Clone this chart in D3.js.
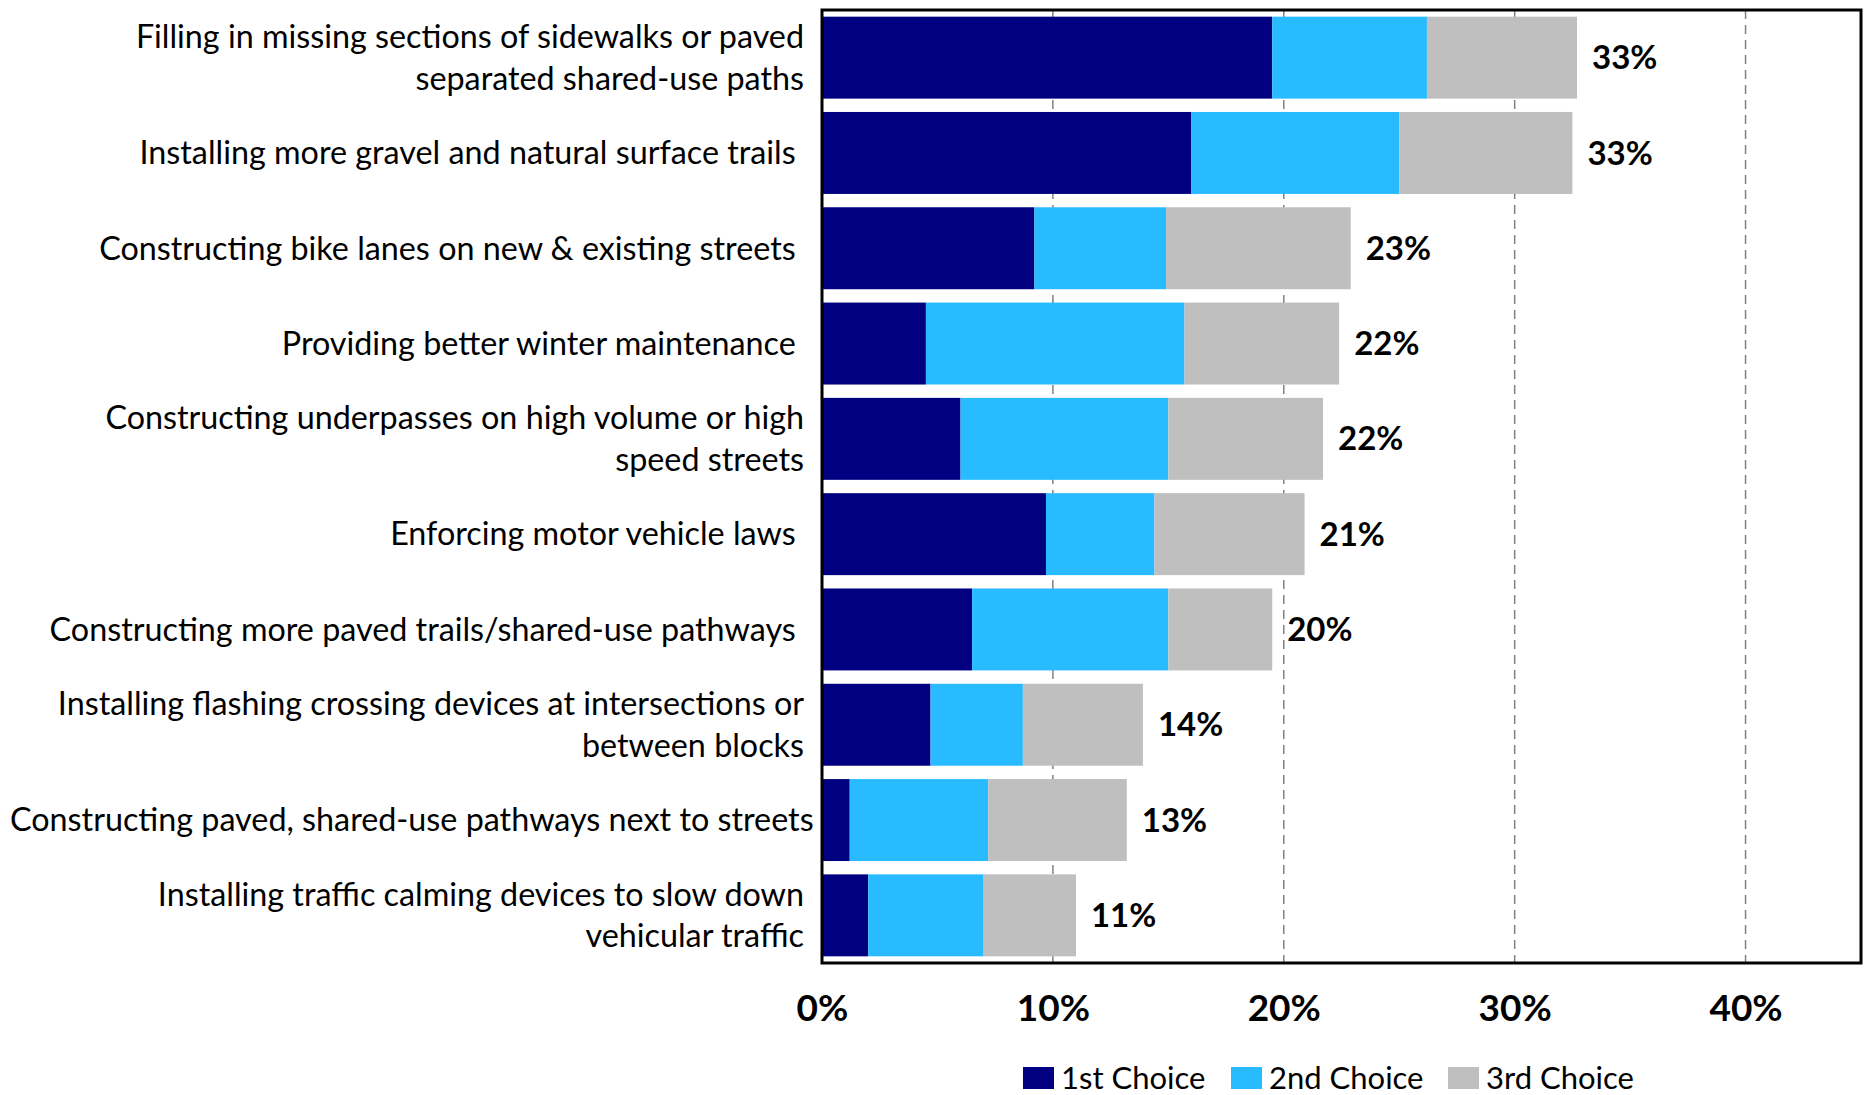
<!DOCTYPE html>
<html>
<head>
<meta charset="utf-8">
<script src="https://cdn.jsdelivr.net/npm/d3@7"></script>
<style>
  html, body { margin: 0; padding: 0; background: #fff; }
  svg { display: block; }
  text { font-family: "Lato", "Noto Sans", sans-serif; fill: #000; }
</style>
</head>
<body>
<svg id="chart" width="1870" height="1095"></svg>
<script>
// ---- data ----
const categories = [
  "Filling in missing sections of sidewalks or paved\nseparated shared-use paths",
  "Installing more gravel and natural surface trails ",
  "Constructing bike lanes on new & existing streets ",
  "Providing better winter maintenance ",
  "Constructing underpasses on high volume or high\nspeed streets",
  "Enforcing motor vehicle laws ",
  "Constructing more paved trails/shared-use pathways ",
  "Installing flashing crossing devices at intersections or\nbetween blocks",
  "Constructing paved, shared-use pathways next to streets",
  "Installing traffic calming devices to slow down\nvehicular traffic"
];
const firstChoice  = [19.5, 16.0, 9.2, 4.5, 6.0, 9.7, 6.5, 4.7, 1.2, 2.0];
const secondChoice = [6.7, 9.0, 5.7, 11.2, 9.0, 4.7, 8.5, 4.0, 6.0, 5.0];
const thirdChoice  = [6.5, 7.5, 8.0, 6.7, 6.7, 6.5, 4.5, 5.2, 6.0, 4.0];
const totalLabels  = ["33%", "33%", "23%", "22%", "22%", "21%", "20%", "14%", "13%", "11%"];
const seriesNames  = ["1st Choice", "2nd Choice", "3rd Choice"];
const xTickValues  = [0, 10, 20, 30, 40];
const xTickLabels  = ["0%", "10%", "20%", "30%", "40%"];

// ---- styles ----
const colors = ["#000080", "#29BBFF", "#BFBFBF"];
const plot = { left: 822, right: 1861, top: 10, bottom: 963 };

const svg = d3.select("#chart");

const rows = categories.map((c, i) => ({
  cat: c, s0: firstChoice[i], s1: secondChoice[i], s2: thirdChoice[i], label: totalLabels[i]
}));

const x = d3.scaleLinear().domain([0, 45]).range([plot.left, plot.right]);
const y = d3.scaleBand().domain(categories).range([plot.top, plot.bottom])
  .paddingInner(0.14).paddingOuter(0.07);

// gridlines
svg.append("g").selectAll("line").data(xTickValues.filter(v => v > 0)).join("line")
  .attr("x1", d => x(d)).attr("x2", d => x(d))
  .attr("y1", plot.top).attr("y2", plot.bottom)
  .attr("stroke", "#808080").attr("stroke-width", 1.5)
  .attr("stroke-dasharray", "9,6");

// stacked bars
const stack = d3.stack().keys(["s0", "s1", "s2"]);
const series = stack(rows);
svg.append("g").selectAll("g").data(series).join("g")
  .attr("fill", (d, i) => colors[i])
  .selectAll("rect").data(d => d).join("rect")
  .attr("x", d => x(d[0]))
  .attr("width", d => x(d[1]) - x(d[0]))
  .attr("y", d => y(d.data.cat))
  .attr("height", y.bandwidth());

// total labels
svg.append("g").selectAll("text").data(rows).join("text")
  .attr("x", d => x(d.s0 + d.s1 + d.s2) + 15)
  .attr("y", d => y(d.cat) + y.bandwidth() / 2)
  .attr("dy", "0.35em")
  .attr("font-size", 33).attr("font-weight", 700)
  .text(d => d.label);

// plot border
svg.append("rect")
  .attr("x", plot.left).attr("y", plot.top)
  .attr("width", plot.right - plot.left).attr("height", plot.bottom - plot.top)
  .attr("fill", "none").attr("stroke", "#000").attr("stroke-width", 3);

// y axis (category labels)
const yAxis = d3.axisLeft(y).tickSize(0).tickPadding(18);
const gy = svg.append("g").attr("transform", `translate(${plot.left},0)`).call(yAxis);
gy.select(".domain").remove();
gy.selectAll(".tick text").each(function(d) {
  const t = d3.select(this);
  const lines = d.split("\n");
  t.text(null).attr("font-size", 32.3).attr("font-family", null).attr("fill", "#000")
    .attr("dy", null).style("white-space", "pre");
  const lh = 41.5;
  lines.forEach((ln, i) => {
    t.append("tspan").attr("x", -18)
      .attr("y", (i - (lines.length - 1) / 2) * lh)
      .attr("dy", "0.35em")
      .text(ln);
  });
  // keep labels inside the left edge of the picture, as the original does
  const bb = this.getBBox();
  const minLeft = 10 - plot.left;
  if (bb.x < minLeft) {
    const shift = minLeft - bb.x;
    t.selectAll("tspan").attr("x", -18 + shift);
  }
});

// x axis (tick labels)
const xAxis = d3.axisBottom(x).tickValues(xTickValues).tickSize(0).tickPadding(0)
  .tickFormat((d, i) => xTickLabels[i]);
const gx = svg.append("g").attr("transform", `translate(0,1008)`).call(xAxis);
gx.select(".domain").remove();
gx.selectAll(".tick text").attr("font-size", 37).attr("font-weight", 700)
  .attr("font-family", null).attr("fill", "#000").attr("dy", "0.35em").attr("y", 0);

// legend
const legendX = [1023, 1231, 1448];
const lg = svg.append("g").selectAll("g").data(seriesNames).join("g")
  .attr("transform", (d, i) => `translate(${legendX[i]},1067)`);
lg.append("rect").attr("width", 31).attr("height", 22).attr("fill", (d, i) => colors[i]);
lg.append("text").attr("x", 38).attr("y", 11).attr("dy", "0.36em")
  .attr("font-size", 31).text(d => d);
</script>
</body>
</html>
